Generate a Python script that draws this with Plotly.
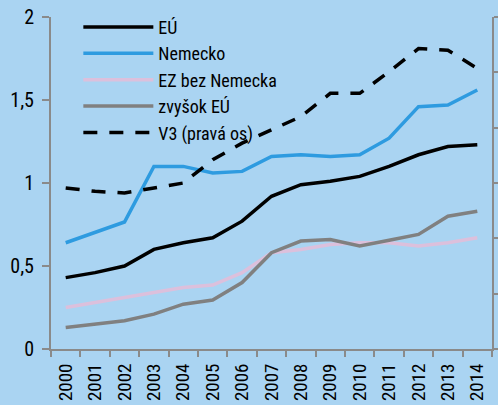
import plotly.graph_objects as go

years = [str(y) for y in range(2000, 2015)]
eu = [0.43, 0.46, 0.50, 0.60, 0.64, 0.67, 0.77, 0.92, 0.99, 1.01, 1.04, 1.10, 1.17, 1.22, 1.23]
nemecko = [0.64, 0.70, 0.765, 1.10, 1.10, 1.06, 1.07, 1.16, 1.17, 1.16, 1.17, 1.27, 1.46, 1.47, 1.56]
ez_bez_nem = [0.25, 0.28, 0.31, 0.335, 0.37, 0.385, 0.46, 0.58, 0.60, 0.63, 0.64, 0.64, 0.62, 0.64, 0.67]
zvysok_eu = [0.13, 0.15, 0.17, 0.21, 0.27, 0.295, 0.40, 0.58, 0.65, 0.66, 0.62, 0.655, 0.69, 0.80, 0.83]
# V3 on right axis (0..6)
v3 = [2.91, 2.85, 2.82, 2.91, 3.00, 3.42, 3.72, 3.96, 4.20, 4.62, 4.62, 5.01, 5.43, 5.40, 5.07]

left_ticks = [0, 0.5, 1, 1.5, 2]
left_labels = ["0", "0,5", "1", "1,5", "2"]

FONT = "Roboto Condensed, Archivo Narrow, Liberation Sans, Arial, sans-serif"
BG = "#aad4f2"
AX = "#8a8a8a"

fig = go.Figure()
fig.add_trace(go.Scatter(x=years, y=eu, name="EÚ", mode="lines",
                         line=dict(color="#000000", width=3.5)))
fig.add_trace(go.Scatter(x=years, y=nemecko, name="Nemecko", mode="lines",
                         line=dict(color="#2e9be0", width=3.5)))
fig.add_trace(go.Scatter(x=years, y=ez_bez_nem, name="EZ bez Nemecka", mode="lines",
                         line=dict(color="#dcc0dc", width=3.5)))
fig.add_trace(go.Scatter(x=years, y=zvysok_eu, name="zvyšok EÚ", mode="lines",
                         line=dict(color="#808080", width=3.5)))
fig.add_trace(go.Scatter(x=years, y=v3, name="V3 (pravá os)", mode="lines", yaxis="y2",
                         line=dict(color="#000000", width=3.5, dash="14px,12px")))

fig.update_layout(
    width=498, height=405,
    paper_bgcolor=BG, plot_bgcolor=BG,
    margin=dict(l=51, r=6, t=17, b=56, autoexpand=False),
    font=dict(family=FONT, size=20, color="#000000"),
    showlegend=True,
    legend=dict(x=0.062, y=1.025, xanchor="left", yanchor="top",
                bgcolor="rgba(0,0,0,0)", font=dict(size=18, family=FONT),
                itemwidth=70, tracegroupgap=0),
    xaxis=dict(type="category", range=[-0.5, len(years) - 0.5],
               tickson="boundaries", ticks="outside", ticklen=6,
               tickcolor=AX, tickwidth=2, showline=True, linecolor=AX, linewidth=2,
               showgrid=False, tickangle=-90, zeroline=False, automargin=False,
               tickfont=dict(size=19, family=FONT), ticklabelstandoff=5),
    yaxis=dict(range=[0, 2], tickvals=left_ticks, ticktext=left_labels,
               ticks="outside", ticklen=7, tickcolor=AX, tickwidth=2,
               showline=True, linecolor=AX, linewidth=2, showgrid=False, zeroline=False,
               automargin=False, tickfont=dict(size=20, family=FONT), ticklabelstandoff=4),
    yaxis2=dict(range=[0, 6], dtick=1, overlaying="y", side="right",
                ticks="outside", ticklen=6, tickcolor=AX, tickwidth=2,
                showline=True, linecolor=AX, linewidth=2, showgrid=False, zeroline=False,
                automargin=False, showticklabels=False),
)

fig.write_html("out.html", config={"displayModeBar": False},
               post_script="document.body.style.margin='0';document.body.style.overflow='hidden';")
